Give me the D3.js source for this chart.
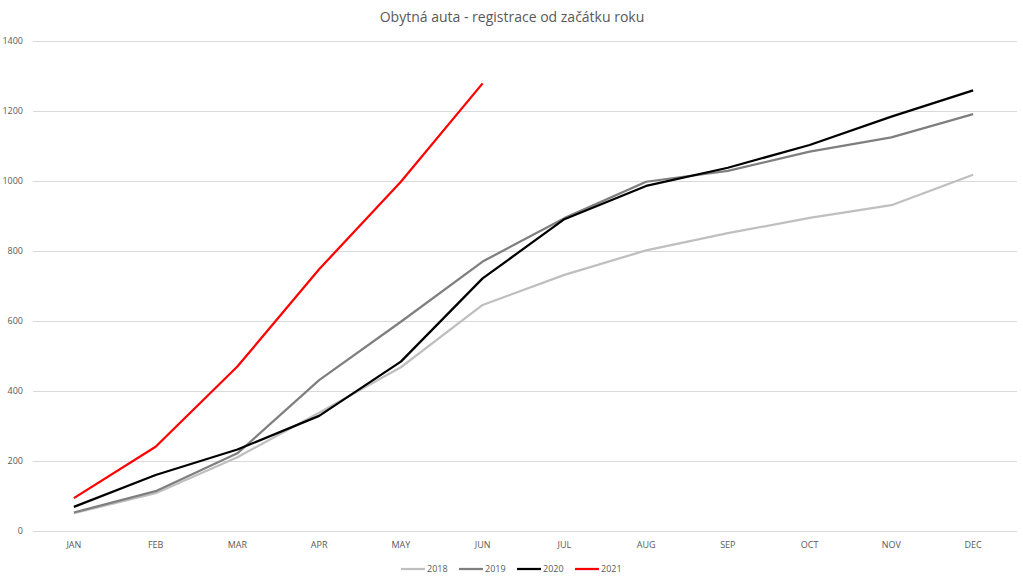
<!DOCTYPE html>
<html><head><meta charset="utf-8">
<script src="https://cdn.jsdelivr.net/npm/d3@7"></script>
<style>
body{margin:0;background:#fff;}
svg{display:block;font-family:"Open Sans","Liberation Sans",sans-serif;}
</style></head>
<body>
<svg id="c" width="1023" height="579"></svg>
<script>
const months = ["JAN","FEB","MAR","APR","MAY","JUN","JUL","AUG","SEP","OCT","NOV","DEC"];
const yTicks = [0,200,400,600,800,1000,1200,1400];
const seriesNames = ["2018","2019","2020","2021"];
const seriesColors = ["#bfbfbf","#7f7f7f","#000000","#ff0000"];
const s2018 = [50,107,210,337,467,645,731,801,850,894,930,1017];
const s2019 = [52,113,221,430,597,769,893,997,1028,1083,1124,1190];
const s2020 = [68,159,232,328,483,721,890,985,1037,1102,1183,1258];
const s2021 = [93,240,469,747,997,1278];
const seriesValues = [s2018,s2019,s2020,s2021];

const svg = d3.select("#c");
const pLeft = 33, pRight = 1014, pTop = 40.7, pBottom = 530.7;
const x = d3.scaleBand().domain(months).range([pLeft,pRight]);
const y = d3.scaleLinear().domain([0,1400]).range([pBottom,pTop]);

svg.append("text").attr("x",512).attr("y",22).attr("text-anchor","middle")
  .attr("font-size",14).attr("fill","#595959").text("Obytná auta - registrace od začátku roku");

const gy = svg.append("g");
gy.selectAll("line").data(yTicks).join("line")
  .attr("x1",pLeft).attr("x2",1017).attr("y1",d=>Math.round(y(d))+0.5).attr("y2",d=>Math.round(y(d))+0.5)
  .attr("stroke","#d9d9d9").attr("stroke-width",1);
gy.selectAll("text").data(yTicks).join("text")
  .attr("x",23).attr("y",d=>y(d)).attr("dy","0.35em").attr("text-anchor","end")
  .attr("font-size",9).attr("fill","#595959").text(d=>d);

svg.append("g").selectAll("text").data(months).join("text")
  .attr("x",d=>x(d)+x.bandwidth()/2).attr("y",548).attr("text-anchor","middle")
  .attr("font-size",9).attr("fill","#595959").text(d=>d);

const line = d3.line().x((d,i)=>x(months[i])+x.bandwidth()/2).y(d=>y(d));
seriesValues.forEach((vals,k)=>{
  svg.append("path").datum(vals).attr("d",line).attr("fill","none")
    .attr("stroke",seriesColors[k]).attr("stroke-width",2.25).attr("stroke-linejoin","round");
});

const legX = [401,459,517,575];
const leg = svg.append("g");
seriesNames.forEach((n,k)=>{
  leg.append("line").attr("x1",legX[k]).attr("x2",legX[k]+24).attr("y1",569).attr("y2",569)
    .attr("stroke",seriesColors[k]).attr("stroke-width",2.25);
  leg.append("text").attr("x",legX[k]+26).attr("y",569).attr("dy","0.35em")
    .attr("font-size",9).attr("fill","#595959").text(n);
});
</script>
</body></html>
